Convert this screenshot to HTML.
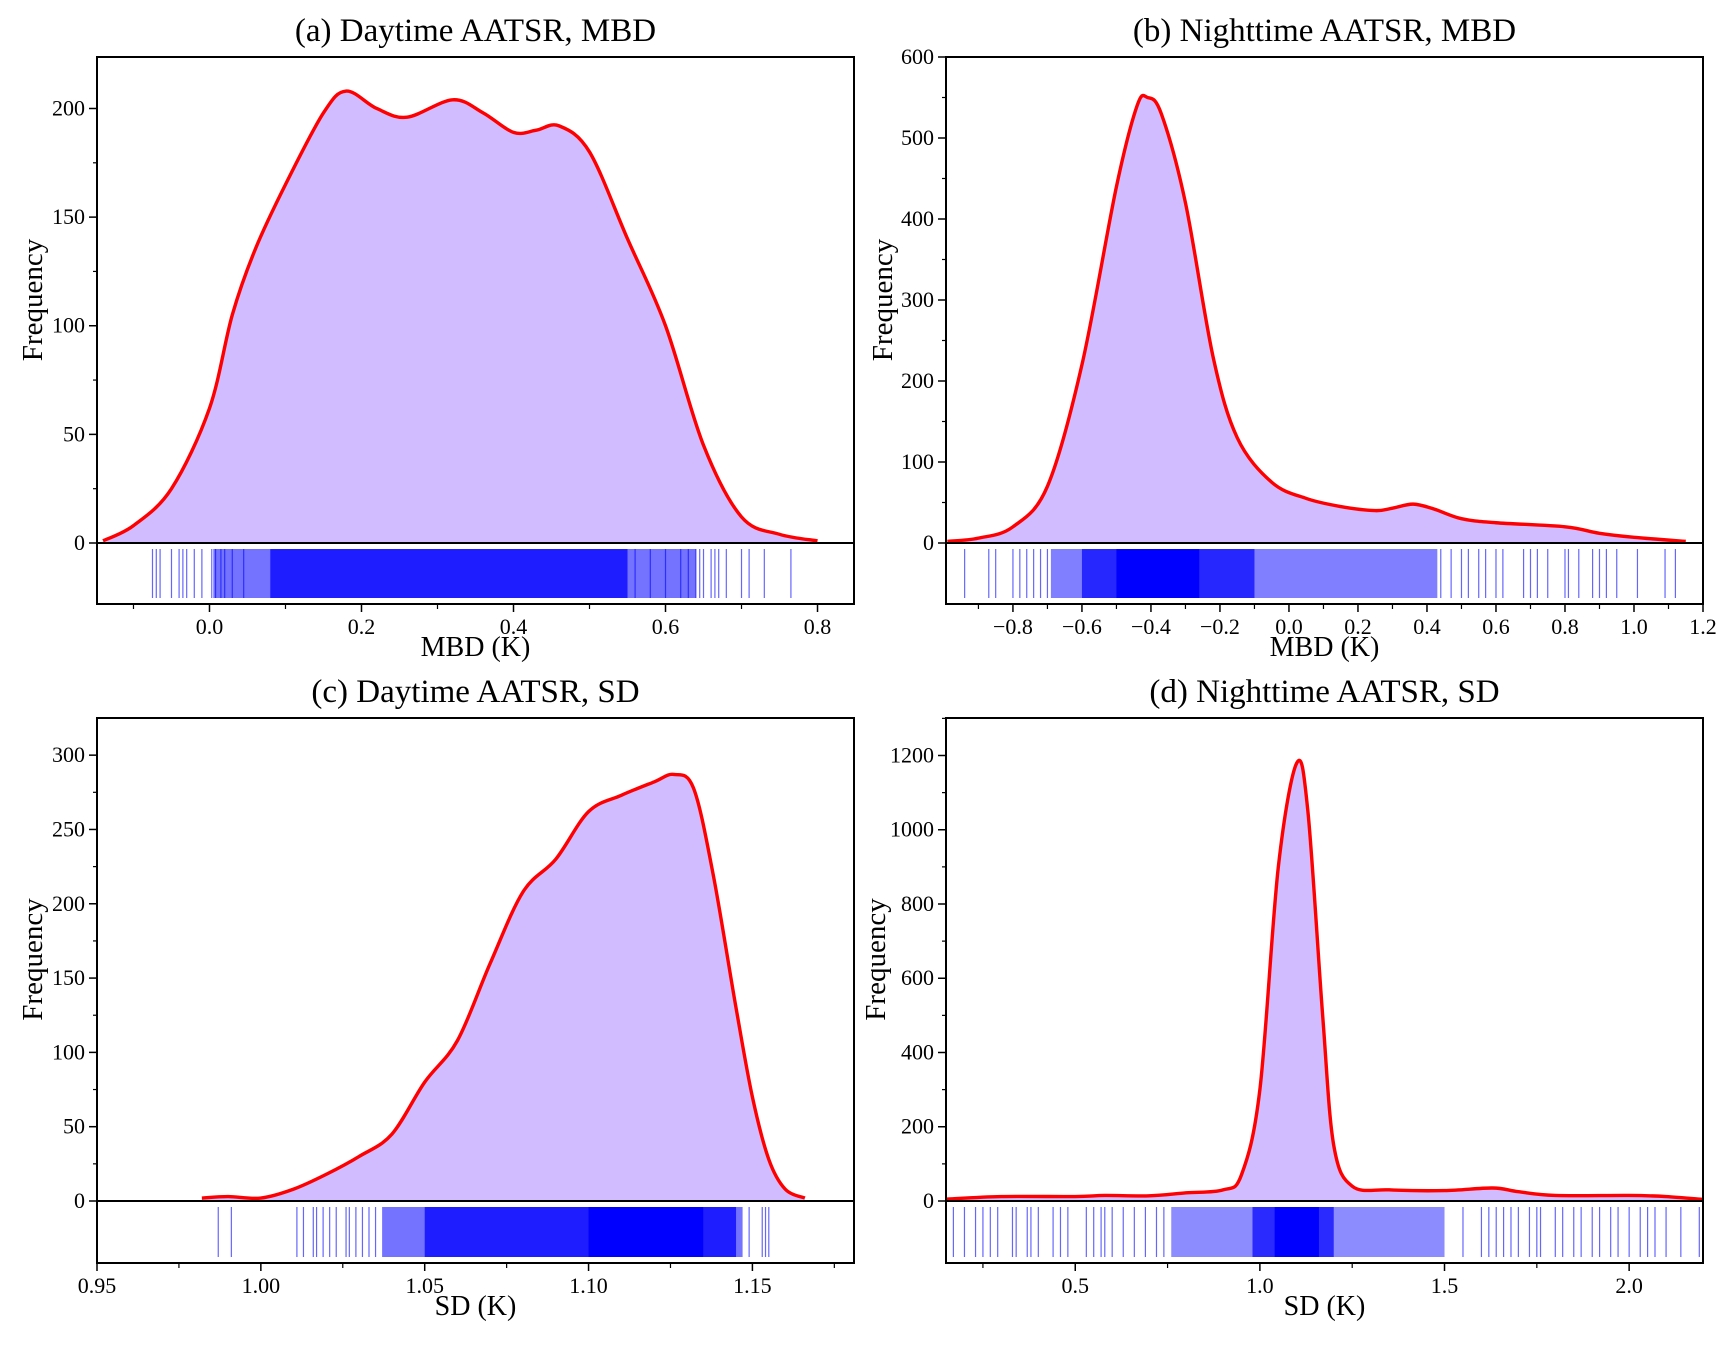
<!DOCTYPE html>
<html><head><meta charset="utf-8"><style>
html,body{margin:0;padding:0;background:#fff;}
svg text{font-family:"Liberation Serif",serif;fill:#000;}
</style></head><body>
<svg id="fig" width="1734" height="1342" viewBox="0 0 1734 1342" xmlns="http://www.w3.org/2000/svg"></svg>
<script>
// ---------- Panel (a) data ----------
const aX=[-0.14,-0.1,-0.05,0,0.03,0.06,0.1,0.15,0.18,0.22,0.26,0.32,0.36,0.4,0.43,0.46,0.5,0.55,0.6,0.65,0.7,0.75,0.8];
const aY=[1,8,25,62,105,135,165,198,208,200,196,204,198,189,190,192,180,140,100,45,12,4,1];
const aXTicks=[0,0.2,0.4,0.6,0.8];
const aXTickLabels=["0.0","0.2","0.4","0.6","0.8"];
const aYTicks=[0,50,100,150,200];
const aRug=[-0.075,-0.07,-0.065,-0.05,-0.04,-0.035,-0.03,-0.02,-0.01,0.003,0.008,0.015,0.02,0.03,0.045,0.56,0.58,0.6,0.62,0.63,0.64,0.645,0.65,0.66,0.665,0.67,0.68,0.7,0.71,0.73,0.765];
const aSpans=[[0.005,0.64,0.55],[0.08,0.55,0.75]];
// ---------- Panel (b) data ----------
const bX=[-0.99,-0.9,-0.8,-0.7,-0.6,-0.5,-0.44,-0.41,-0.37,-0.3,-0.22,-0.15,-0.05,0.05,0.15,0.25,0.3,0.36,0.42,0.5,0.6,0.8,0.9,1.0,1.15];
const bY=[2,6,20,70,220,440,540,550,530,420,230,130,75,55,45,40,43,48,42,30,25,20,12,7,2];
const bXTicks=[-0.8,-0.6,-0.4,-0.2,0,0.2,0.4,0.6,0.8,1.0,1.2];
const bXTickLabels=["\u22120.8","\u22120.6","\u22120.4","\u22120.2","0.0","0.2","0.4","0.6","0.8","1.0","1.2"];
const bYTicks=[0,100,200,300,400,500,600];
const bRug=[-0.94,-0.87,-0.85,-0.8,-0.78,-0.76,-0.74,-0.72,-0.7,0.44,0.47,0.5,0.52,0.55,0.57,0.6,0.62,0.68,0.7,0.72,0.75,0.8,0.81,0.84,0.88,0.9,0.92,0.95,1.01,1.09,1.12];
const bSpans=[[-0.69,0.43,0.5],[-0.6,-0.1,0.7],[-0.5,-0.26,1]];
// ---------- Panel (c) data ----------
const cX=[0.982,0.99,1.0,1.01,1.02,1.03,1.04,1.05,1.06,1.07,1.08,1.09,1.10,1.11,1.12,1.126,1.132,1.138,1.145,1.15,1.155,1.16,1.166];
const cY=[2,3,2,8,18,30,45,80,108,160,208,230,262,273,282,287,278,220,130,70,28,8,2];
const cXTicks=[0.95,1.0,1.05,1.1,1.15];
const cXTickLabels=["0.95","1.00","1.05","1.10","1.15"];
const cYTicks=[0,50,100,150,200,250,300];
const cRug=[0.987,0.991,1.011,1.013,1.016,1.017,1.019,1.021,1.023,1.026,1.027,1.029,1.031,1.033,1.035,1.149,1.153,1.154,1.155];
const cSpans=[[1.037,1.147,0.55],[1.05,1.145,0.75],[1.1,1.135,1]];
// ---------- Panel (d) data ----------
const dX=[0.15,0.3,0.5,0.58,0.7,0.8,0.9,0.95,1.0,1.05,1.1,1.13,1.17,1.2,1.25,1.35,1.5,1.63,1.7,1.8,2.0,2.1,2.2];
const dY=[5,12,12,15,14,22,30,70,300,900,1180,1050,500,150,40,30,28,35,25,15,15,12,4];
const dXTicks=[0.5,1.0,1.5,2.0];
const dXTickLabels=["0.5","1.0","1.5","2.0"];
const dYTicks=[0,200,400,600,800,1000,1200];
const dRug=[0.17,0.2,0.23,0.25,0.27,0.29,0.33,0.34,0.37,0.38,0.4,0.44,0.46,0.48,0.53,0.55,0.57,0.58,0.6,0.63,0.66,0.69,0.72,0.74,1.55,1.6,1.62,1.64,1.66,1.68,1.7,1.73,1.75,1.76,1.8,1.82,1.85,1.87,1.9,1.92,1.95,1.97,2.0,2.03,2.05,2.07,2.1,2.14,2.19];
const dSpans=[[0.76,1.5,0.45],[0.98,1.2,0.7],[1.04,1.16,1]];

const svg=document.getElementById('fig');
const NS='http://www.w3.org/2000/svg';
function el(tag,attrs,parent){const e=document.createElementNS(NS,tag);for(const k in attrs)e.setAttribute(k,attrs[k]);(parent||svg).appendChild(e);return e;}

function smoothPath(pts){
  let d='M'+pts[0][0].toFixed(2)+','+pts[0][1].toFixed(2);
  for(let i=0;i<pts.length-1;i++){
    const p0=pts[i-1]||pts[i],p1=pts[i],p2=pts[i+1],p3=pts[i+2]||p2;
    const c1=[p1[0]+(p2[0]-p0[0])/6,p1[1]+(p2[1]-p0[1])/6];
    const c2=[p2[0]-(p3[0]-p1[0])/6,p2[1]-(p3[1]-p1[1])/6];
    d+=' C'+c1[0].toFixed(2)+','+c1[1].toFixed(2)+' '+c2[0].toFixed(2)+','+c2[1].toFixed(2)+' '+p2[0].toFixed(2)+','+p2[1].toFixed(2);
  }
  return d;
}

function panel(cfg){
  const g=el('g',{});
  
  
  const {L,R,T,Z,B,x0,x1,ymax}=cfg;
  const sx=v=>L+(v-x0)/(x1-x0)*(R-L);
  const sy=v=>Z-v/ymax*(Z-T);
  const pts=cfg.xs.map((x,i)=>[sx(x),sy(cfg.ys[i])]);
  const line=smoothPath(pts);
  const area=el('path',{d:line+' L'+pts[pts.length-1][0]+','+Z+' L'+pts[0][0]+','+Z+' Z',fill:'#d0bcfe',stroke:'none'},g);
  
  
  const curve=el('path',{d:line,fill:'none',stroke:'#ff0000','stroke-width':3.4,'stroke-linejoin':'round'},g);
  
  
  const rg=el('g',{},g);
  
  
  cfg.spans.forEach(s=>{
    const r=el('rect',{x:sx(s[0]),y:Z+6,width:sx(s[1])-sx(s[0]),height:B-Z-12,fill:'#0000ff','fill-opacity':s[2]},rg);
    
    
  });
  cfg.rug.forEach(v=>{
    const l=el('line',{x1:sx(v),x2:sx(v),y1:Z+6,y2:B-6,stroke:'#0000ff','stroke-width':1.2,'stroke-opacity':0.6},rg);
    
    
  });
  const fr=el('rect',{x:L,y:T,width:R-L,height:B-T,fill:'none',stroke:'#000','stroke-width':2},g);
  
  
  const zl=el('line',{x1:L,x2:R,y1:Z,y2:Z,stroke:'#000','stroke-width':2},g);
  
  
  const yStep=cfg.yTicks[1]-cfg.yTicks[0];
  cfg.yTicks.forEach(v=>{
    const y=sy(v);
    const t=el('line',{x1:L-8,x2:L,y1:y,y2:y,stroke:'#000','stroke-width':1.5},g);
    
    
    const tx=el('text',{x:L-12,y:y+7,'font-size':22,'text-anchor':'end'},g);
    tx.textContent=String(v);
    
    
    const ym=sy(v+yStep/2);
    if(ym>T){const m=el('line',{x1:L-4,x2:L,y1:ym,y2:ym,stroke:'#000','stroke-width':1.2},g);
    
    }
  });
  const xStep=cfg.xTicks[1]-cfg.xTicks[0];
  const minors=[cfg.xTicks[0]-xStep/2].concat(cfg.xTicks.map(v=>v+xStep/2));
  cfg.xTicks.forEach((v,i)=>{
    const x=sx(v);
    const t=el('line',{x1:x,x2:x,y1:B,y2:B+8,stroke:'#000','stroke-width':1.5},g);
    
    
    const tx=el('text',{x:x,y:B+30,'font-size':22,'text-anchor':'middle'},g);
    tx.textContent=cfg.xLabels[i];
    
    
  });
  minors.forEach(v=>{
    if(v<=x0||v>=x1)return;
    const x=sx(v);
    const m=el('line',{x1:x,x2:x,y1:B,y2:B+5,stroke:'#000','stroke-width':1.2},g);
    
    
  });
  const ti=el('text',{x:(L+R)/2,y:T-16,'font-size':33,'text-anchor':'middle'},g);
  ti.textContent=cfg.title;
  
  
  const xt=el('text',{x:(L+R)/2,y:B+52,'font-size':28,'text-anchor':'middle'},g);
  xt.textContent=cfg.xTitle;
  
  
  const yc=(T+Z)/2;
  const yt=el('text',{x:cfg.yTitleX,y:yc,'font-size':29,'text-anchor':'middle',transform:'rotate(-90 '+cfg.yTitleX+' '+yc+')'},g);
  yt.textContent='Frequency';
  
  
}

panel({name:'panel-a-daytime-mbd',L:97,R:854,T:57,Z:543,B:604,x0:-0.148,x1:0.848,ymax:223.7,xs:aX,ys:aY,xTicks:aXTicks,xLabels:aXTickLabels,yTicks:aYTicks,rug:aRug,spans:aSpans,title:'(a) Daytime AATSR, MBD',xTitle:'MBD (K)',yTitleX:42});
panel({name:'panel-b-nighttime-mbd',L:946,R:1703,T:57,Z:543,B:604,x0:-0.994,x1:1.2,ymax:600,xs:bX,ys:bY,xTicks:bXTicks,xLabels:bXTickLabels,yTicks:bYTicks,rug:bRug,spans:bSpans,title:'(b) Nighttime AATSR, MBD',xTitle:'MBD (K)',yTitleX:892});
panel({name:'panel-c-daytime-sd',L:97,R:854,T:718,Z:1201,B:1263,x0:0.95,x1:1.181,ymax:325,xs:cX,ys:cY,xTicks:cXTicks,xLabels:cXTickLabels,yTicks:cYTicks,rug:cRug,spans:cSpans,title:'(c) Daytime AATSR, SD',xTitle:'SD (K)',yTitleX:42});
panel({name:'panel-d-nighttime-sd',L:946,R:1703,T:718,Z:1201,B:1263,x0:0.15,x1:2.2,ymax:1301,xs:dX,ys:dY,xTicks:dXTicks,xLabels:dXTickLabels,yTicks:dYTicks,rug:dRug,spans:dSpans,title:'(d) Nighttime AATSR, SD',xTitle:'SD (K)',yTitleX:885});
</script>
</body></html>
